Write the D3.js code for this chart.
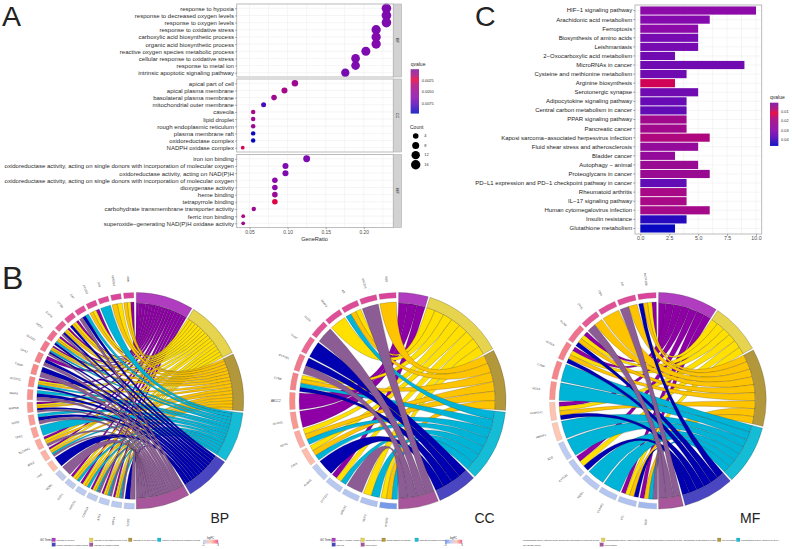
<!DOCTYPE html>
<html><head><meta charset="utf-8">
<script src="https://cdn.jsdelivr.net/npm/d3@7"></script>
<style>
html,body{margin:0;padding:0;background:#fff}
svg{display:block}
text{font-family:"Liberation Sans",Arial,sans-serif}
</style></head><body>
<svg id="c" width="792" height="549" viewBox="0 0 792 549"></svg>
<script>
// ---------- Panel A data ----------
const bpTerms=["response to hypoxia","response to decreased oxygen levels","response to oxygen levels","response to oxidative stress","carboxylic acid biosynthetic process","organic acid biosynthetic process","reactive oxygen species metabolic process","cellular response to oxidative stress","response to metal ion","intrinsic apoptotic signaling pathway"];
const bpRatio=[0.2297,0.2297,0.2297,0.2162,0.2162,0.2162,0.2027,0.1892,0.1892,0.1757];
const bpCount=[17,17,17,16,16,16,15,14,14,13];
const bpQ=[0.0066,0.0066,0.0066,0.0066,0.0064,0.0064,0.0066,0.0066,0.0066,0.0068];
const ccTerms=["apical part of cell","apical plasma membrane","basolateral plasma membrane","mitochondrial outer membrane","caveola","lipid droplet","rough endoplasmic reticulum","plasma membrane raft","oxidoreductase complex","NADPH oxidase complex"];
const ccRatio=[0.1096,0.0959,0.0822,0.0685,0.0548,0.0548,0.0548,0.0548,0.0548,0.0411];
const ccCount=[8,7,6,5,4,4,4,4,4,3];
const ccQ=[0.0045,0.0040,0.0046,0.0080,0.0040,0.0047,0.0047,0.0095,0.0096,0.0027];
const mfTerms=["iron ion binding","oxidoreductase activity, acting on single donors with incorporation of molecular oxygen","oxidoreductase activity, acting on NAD(P)H","oxidoreductase activity, acting on single donors with incorporation of molecular oxygen","dioxygenase activity","heme binding","tetrapyrrole binding","carbohydrate transmembrane transporter activity","ferric iron binding","superoxide\u2212generating NAD(P)H oxidase activity"];
const mfRatio=[0.125,0.0972,0.0972,0.0833,0.0833,0.0833,0.0833,0.0556,0.0417,0.0417];
const mfCount=[9,7,7,6,6,6,6,4,3,3];
const mfQ=[0.0066,0.0066,0.0066,0.0060,0.0060,0.0047,0.0025,0.0046,0.0036,0.0044];
const dotXTicks=[0.05,0.10,0.15,0.20];
const qLegendA=[0.0025,0.005,0.0075];
const countLegend=[4,8,12,16];

// ---------- Panel C data ----------
const pathways=["HIF\u22121 signaling pathway","Arachidonic acid metabolism","Ferroptosis","Biosynthesis of amino acids","Leishmaniasis","2\u2212Oxocarboxylic acid metabolism","MicroRNAs in cancer","Cysteine and methionine metabolism","Arginine biosynthesis","Serotonergic synapse","Adipocytokine signaling pathway","Central carbon metabolism in cancer","PPAR signaling pathway","Pancreatic cancer","Kaposi sarcoma\u2212associated herpesvirus infection","Fluid shear stress and atherosclerosis","Bladder cancer","Autophagy \u2212 animal","Proteoglycans in cancer","PD\u2212L1 expression and PD\u22121 checkpoint pathway in cancer","Rheumatoid arthritis","IL\u221217 signaling pathway","Human cytomegalovirus infection","Insulin resistance","Glutathione metabolism"];
const pathwayCount=[10,6,5,5,5,3,9,4,3,5,4,4,4,4,6,5,3,5,6,4,4,4,6,4,3];
const pathwayQ=[0.029,0.031,0.029,0.033,0.033,0.034,0.034,0.034,0.0135,0.034,0.035,0.036,0.021,0.021,0.017,0.025,0.025,0.023,0.023,0.036,0.019,0.019,0.020,0.043,0.0465];
const barXTicks=[0,2.5,5,7.5,10];
const qLegendC=[0.01,0.02,0.03,0.04];

// ---------- Panel B data ----------
const chordBPTerms=["response to hypoxia","response to decreased oxygen levels","response to oxygen levels","reactive oxygen species metabolic process","cellular response to oxidative stress","response to oxidative stress"];
const chordBPGenes=["VDR","NFE2L2","JUN","PTGS2","CAT","CYBB","EGFR","NCF2","DUOX2","GPX2","TXNIP","ALOX15","MMP9","MAPK8","NOS2","TFRC","SLC40A1","BCL2","FOS","NQO1","EGR1","HMOX1","CDKN1A","ATF3","HIF1A","SOD2"];
const chordBPLogFC=[3.2,3.15,3.1,3.05,3.0,2.9,2.7,2.5,2.3,2.15,2.05,2.0,1.9,1.8,1.7,1.6,1.5,1.35,1.15,-0.8,-0.9,-1,-1,-1,-1.05,-1.1];
const chordBPLinks=[[0,1,2],[1,2],[3],[0,1,2],[3,4,5],[0,1,2,4],[0,1,2,4,5],[0,1,2,3,4],[0,1,2,3,4,5],[0,4,5],[4,5],[0,1,2,3,4],[3,4,5],[0,1,2,4,5],[3,4,5],[3],[0,1,2,5],[0,1,2,3,5],[4],[5],[0,1,2,3],[0,1,2,3],[0,1,2,3,5],[0,1,2,3,5],[0,1,2,3,5],[4,5]];
const chordCCTerms=["NADPH oxidase complex","apical part of cell","apical plasma membrane","basolateral plasma membrane","caveola","lipid droplet"];
const chordCCGenes=["SOD","SLC2A1","AR","MMP3","CD36","TFRC","CYP1B1","CYBB","ABCC2","DUOX2","NOX1","CAV1","ALOX5","CYP2E1","HMOX1","NCF2","PTGS2"];
const chordCCLogFC=[3.2,3.1,3.05,3.0,2.9,2.6,2.3,2.15,2.0,1.8,1.5,1.2,-1,-1.1,-1.2,-1.3,-2.7];
const chordCCLinks=[[2],[5],[1,2,3],[1],[5],[4],[4,5],[1,2,3,4],[0],[0],[1,2,3],[1,2,3],[4],[0,1,3],[5],[1,3],[1,2,3]];
const chordMFTerms=["oxidoreductase activity, acting on single donors with incorporation of molecular oxygen","oxidoreductase activity, acting on single donors with incorporation of molecular oxygen, incorporation of two atoms of oxygen","iron ion binding","oxidoreductase activity, acting on NAD(P)H","dioxygenase activity","heme binding"];
const chordMFGenes=["ALOX15B","AR","CBS","FTH1","PLIN2","ALOX5","CYBB","NOX4","ALDH1A1","HMOX1","SCD","CYP1B1","NQO1","CYP4F3","FTL","SOD"];
const chordMFLogFC=[3.2,3.05,3.0,2.8,2.4,2.2,2.1,1.9,1.1,1.0,-1,-1.1,-1.1,-1.2,-1.3,-1.6];
const chordMFLinks=[[0,1,2,4],[2,5],[2],[2,5],[0,1,2,4],[0,1,2,4],[3],[3],[0,1,2,4],[3],[3],[0,1,4],[3],[3],[0,1,2,4],[0,2,3,5]];

// ---------- shared styling ----------
const svg=d3.select("#c");
const ink="#2b2b2b", axisInk="#4d4d4d", gridCol="#efefef", borderCol="#b3b3b3";
const ribbonCol=["#8e00a6","#ffe000","#ffc400","#00b4d8","#0000b0","#8c5c94"];
const termCol=["#b03cc0","#e6d44e","#b2983a","#14bcd6","#4a46c2","#a8569c"];
const qStops=[0,0.14,0.245,0.36,0.5,0.65,0.8,1];
const qCols=["#7f14a0","#a8107e","#e6003c","#b0087e","#980a94","#8a0aac","#5a0cb8","#0808c0"];
const qRamp=d3.scaleLinear().domain(qStops).range(qCols).interpolate(d3.interpolateRgb);
function qColour(qMax){return q=>qRamp(q/qMax);}
const lfcColour=d3.scaleLinear().domain([-3,-1,1,2,3.2]).range(["#6a90e8","#bccbf0","#ffc8b5","#f88b88","#d9439a"]);

function letter(t,x,y,size){svg.append("text").attr("x",x).attr("y",y).attr("font-size",size).attr("fill","#222").text(t);}
function qBar(g,x,y0,y1,w,qMax,ticks,title,colour,fmt){
  const sc=d3.scaleLinear().domain([0,qMax]).range([y0,y1]);
  g.selectAll(null).data(d3.range(y0,y1,1)).join("rect").attr("x",x).attr("y",d=>d).attr("width",w).attr("height",1.2)
    .attr("fill",d=>colour(sc.invert(d+.5)));
  g.selectAll(null).data(ticks).join("text").attr("x",x+w+2.8).attr("y",d=>sc(d)+1.3).attr("font-size",3.9).attr("fill",ink).text(fmt);
  g.append("text").attr("x",x).attr("y",y0-3.3).attr("font-size",5).attr("fill",ink).text(title);
}

// ---------- Panel A ----------
(function(){
  const g=svg.append("g");
  const left=236.7,right=393.3,stripR=401.7;
  const x=d3.scaleLinear().domain([0.05,0.20]).range([249.5,363.8]);
  const r=d3.scaleSqrt().domain([3,17]).range([1.9,4.8]);
  const colour=qColour(0.0096);
  const facets=[
    {n:"BP",t:bpTerms,v:bpRatio,c:bpCount,q:bpQ,y0:4,y1:77},
    {n:"CC",t:ccTerms,v:ccRatio,c:ccCount,q:ccQ,y0:79,y1:152},
    {n:"MF",t:mfTerms,v:mfRatio,c:mfCount,q:mfQ,y0:154.5,y1:227.6}];
  const minor=[0.075,0.125,0.175,0.225];
  facets.forEach(f=>{
    const y=d3.scalePoint().domain(d3.range(f.t.length)).range([f.y0,f.y1]).padding(0.6);
    const p=g.append("g");
    p.append("rect").attr("x",left).attr("y",f.y0).attr("width",right-left).attr("height",f.y1-f.y0).attr("fill","#fff");
    p.selectAll(null).data(f.t.map((_,i)=>i)).join("line").attr("x1",left).attr("x2",right).attr("y1",d=>y(d)).attr("y2",d=>y(d)).attr("stroke",gridCol).attr("stroke-width",.6);
    p.selectAll(null).data(dotXTicks.concat(minor)).join("line").attr("y1",f.y0).attr("y2",f.y1).attr("x1",d=>x(d)).attr("x2",d=>x(d)).attr("stroke",gridCol).attr("stroke-width",.6);
    p.selectAll(null).data(f.t.map((_,i)=>i)).join("circle").attr("cx",d=>x(f.v[d])).attr("cy",d=>y(d)).attr("r",d=>r(f.c[d])).attr("fill",d=>colour(f.q[d]));
    p.append("rect").attr("x",left).attr("y",f.y0).attr("width",right-left).attr("height",f.y1-f.y0).attr("fill","none").attr("stroke",borderCol).attr("stroke-width",.9);
    p.append("rect").attr("x",right).attr("y",f.y0).attr("width",stripR-right).attr("height",f.y1-f.y0).attr("fill","#d2d2d2").attr("stroke",borderCol).attr("stroke-width",.6);
    const sx=(right+stripR)/2, sy=(f.y0+f.y1)/2;
    p.append("text").attr("transform",`translate(${sx-1.2},${sy}) rotate(90)`).attr("text-anchor","middle").attr("font-size",3.8).attr("fill",ink).text(f.n);
    const ax=p.append("g").attr("transform",`translate(${left},0)`).call(d3.axisLeft(y).tickSize(1.6).tickPadding(1.2).tickFormat(i=>f.t[i]));
    ax.select(".domain").remove();
    ax.selectAll("line").attr("stroke",axisInk).attr("stroke-width",.5);
    ax.selectAll("text").attr("font-size",6).attr("fill",ink).attr("font-family",null);
  });
  const bx=g.append("g").attr("transform","translate(0,227.6)").call(d3.axisBottom(x).tickValues(dotXTicks).tickSize(1.6).tickPadding(1).tickFormat(d3.format(".2f")));
  bx.select(".domain").remove();
  bx.selectAll("line").attr("stroke",axisInk).attr("stroke-width",.5);
  bx.selectAll("text").attr("font-size",4.9).attr("fill",axisInk).attr("font-family",null);
  g.append("text").attr("x",314.5).attr("y",241.2).attr("text-anchor","middle").attr("font-size",5.6).attr("fill",ink).text("GeneRatio");
  qBar(g,410.7,69.3,112.7,8.3,0.0096,qLegendA,"qvalue",colour,d3.format(".4f"));
  g.append("text").attr("x",410).attr("y",128.5).attr("font-size",5).attr("fill",ink).text("Count");
  const ly=d3.scalePoint().domain(countLegend).range([136,164.7]);
  const rl=d3.scaleOrdinal().domain(countLegend).range([2.8,3.5,4.2,4.7]);
  g.selectAll(null).data(countLegend).join("circle").attr("cx",415.7).attr("cy",d=>ly(d)).attr("r",d=>rl(d)).attr("fill","#000");
  g.selectAll(null).data(countLegend).join("text").attr("x",424.3).attr("y",d=>ly(d)+1.3).attr("font-size",3.9).attr("fill",ink).text(d=>d);
})();

// ---------- Panel C ----------
(function(){
  const g=svg.append("g");
  const left=635,right=761.7,top=5,bottom=234;
  const x=d3.scaleLinear().domain([0,10]).range([640.3,756]);
  const y=d3.scaleBand().domain(pathways).range([top,bottom]).paddingInner(0.1).paddingOuter(0.16);
  const colour=qColour(0.0465);
  const minor=[1.25,3.75,6.25,8.75];
  g.selectAll(null).data(barXTicks.concat(minor)).join("line").attr("x1",d=>x(d)).attr("x2",d=>x(d)).attr("y1",top).attr("y2",bottom).attr("stroke",gridCol).attr("stroke-width",.6);
  g.selectAll(null).data(pathways).join("line").attr("x1",left).attr("x2",right).attr("y1",d=>y(d)+y.bandwidth()/2).attr("y2",d=>y(d)+y.bandwidth()/2).attr("stroke",gridCol).attr("stroke-width",.6);
  g.selectAll(null).data(pathways.map((_,i)=>i)).join("rect").attr("x",x(0)).attr("y",i=>y(pathways[i])).attr("height",y.bandwidth())
    .attr("width",i=>x(pathwayCount[i])-x(0)).attr("fill",i=>colour(pathwayQ[i]));
  g.append("rect").attr("x",left).attr("y",top).attr("width",right-left).attr("height",bottom-top).attr("fill","none").attr("stroke",borderCol).attr("stroke-width",.9);
  const ay=g.append("g").attr("transform",`translate(${left},0)`).call(d3.axisLeft(y).tickSize(1.7).tickPadding(1.2));
  ay.select(".domain").remove();
  ay.selectAll("line").attr("stroke",axisInk).attr("stroke-width",.5);
  ay.selectAll("text").attr("font-size",5.96).attr("fill","#1c1c1c").attr("font-family",null);
  const ax=g.append("g").attr("transform",`translate(0,${bottom})`).call(d3.axisBottom(x).tickValues(barXTicks).tickSize(1.7).tickPadding(1).tickFormat(d3.format(".1f")));
  ax.select(".domain").remove();
  ax.selectAll("line").attr("stroke",axisInk).attr("stroke-width",.5);
  ax.selectAll("text").attr("font-size",5.3).attr("fill",axisInk).attr("font-family",null);
  qBar(g,770,102.7,145.7,8.3,0.0465,qLegendC,"qvalue",colour,d3.format(".2f"));
})();

// ---------- Panel B ----------
function chord(cfg){
  const g=svg.append("g").attr("transform",`translate(${cfg.cx},${cfg.cy})`);
  const deg=Math.PI/180;
  const R=108.3, termIn=97.6, geneIn=102.7, ribGene=98.6, labelR=122;
  const counts=cfg.terms.map((_,t)=>d3.sum(cfg.links,l=>l.includes(t)?1:0));
  const unit=d3.scaleLinear().domain([0,d3.sum(counts)]).range([0,180*deg]);
  const termGap=0.5*deg;
  const arc=d3.arc();
  const ribbon=d3.ribbon();
  let running=0;
  const termStart=counts.map(c=>{const s=running;running+=c;return s;});
  const geneStep=180*deg/cfg.genes.length;
  const geneGapHalf=0.55*deg;
  const used=cfg.terms.map(()=>0);
  const ribbons=[];
  cfg.links.forEach((list,i)=>{
    const gHi=-i*geneStep-0.8*deg;
    const gLo=-(i+1)*geneStep+0.1*deg;
    const w=(gHi-gLo)/list.length;
    list.forEach((t,j)=>{
      const a0=unit(termStart[t]+used[t]);
      const a1=unit(termStart[t]+used[t]+1);
      used[t]+=1;
      ribbons.push({t,
        source:{startAngle:gHi-(j+1)*w,endAngle:gHi-j*w,radius:ribGene},
        target:{
          startAngle:a0+(used[t]===1?termGap:0),
          endAngle:a1-(used[t]===counts[t]?termGap:0),
          radius:termIn}});
    });
  });
  ribbons.sort((a,b)=>a.t-b.t);
  g.append("g").selectAll("path").data(ribbons).join("path").attr("d",d=>ribbon(d))
    .attr("fill",d=>ribbonCol[d.t]).attr("stroke","#1a1a1a").attr("stroke-width",.2);
  g.append("g").selectAll("path").data(cfg.terms.map((_,t)=>t)).join("path")
    .attr("d",t=>arc({innerRadius:termIn,outerRadius:R,startAngle:unit(termStart[t])+termGap,endAngle:unit(termStart[t]+counts[t])-termGap}))
    .attr("fill",t=>termCol[t]).attr("stroke","#333").attr("stroke-width",.25);
  g.append("g").selectAll("path").data(cfg.genes.map((_,i)=>i)).join("path")
    .attr("d",i=>arc({innerRadius:geneIn,outerRadius:R,startAngle:-(i+1)*geneStep+geneGapHalf,endAngle:-i*geneStep-geneGapHalf-0.3*deg}))
    .attr("fill",i=>lfcColour(cfg.lfc[i])).attr("stroke","#999").attr("stroke-width",.2);
  g.append("g").selectAll("text").data(cfg.genes.map((_,i)=>i)).join("text")
    .attr("transform",i=>{
      const a=-(i+.5)*geneStep;
      const px=labelR*Math.sin(a), py=-labelR*Math.cos(a);
      return `translate(${px},${py}) rotate(${a/deg+90})`;})
    .attr("text-anchor","middle").attr("dy","0.35em").attr("font-size",2.9).attr("fill","#444").text(i=>cfg.genes[i]);
  svg.append("text").attr("x",cfg.titleX).attr("y",523.3).attr("font-size",14).attr("fill","#222").text(cfg.title);
  const lg=svg.append("g");
  if(cfg.legendTitleX) lg.append("text").attr("x",cfg.legendTitleX).attr("y",541.4).attr("font-size",2.6).attr("fill",ink).text("GO Terms");
  cfg.legendPos.forEach((p,t)=>{
    if(p.square) lg.append("rect").attr("x",p.x-4.6).attr("y",p.y-2.8).attr("width",3.6).attr("height",3.6).attr("fill",termCol[t]).attr("stroke","#666").attr("stroke-width",.15);
    lg.append("text").attr("x",p.x).attr("y",p.y).attr("font-size",cfg.legendFont).attr("fill",ink).text(cfg.terms[t]);
  });
  if(cfg.barX){
    const sc=d3.scaleLinear().domain([cfg.lfcMin,cfg.lfcMax]).range([cfg.barX,cfg.barX+cfg.barW]);
    lg.selectAll(null).data(d3.range(cfg.barX,cfg.barX+cfg.barW,0.5)).join("rect").attr("x",d=>d).attr("y",539.8).attr("width",.7).attr("height",3.6).attr("fill",d=>lfcColour(sc.invert(d)));
    lg.append("text").attr("x",cfg.barX+cfg.barW/2).attr("y",538.6).attr("text-anchor","middle").attr("font-size",2.6).attr("fill",ink).text("logFC");
    [cfg.lfcMin,cfg.lfcMax].forEach(v=>lg.append("text").attr("x",sc(v)).attr("y",546.4).attr("text-anchor","middle").attr("font-size",2.6).attr("fill",ink).text(d3.format("d")(v)));
  }
}
chord({cx:135.4,cy:400.7,terms:chordBPTerms,genes:chordBPGenes,lfc:chordBPLogFC,links:chordBPLinks,title:"BP",titleX:210.5,
  legendTitleX:40,legendFont:2.0,barX:203,barW:15,lfcMin:-1,lfcMax:3,
  legendPos:[{x:56.5,y:540.8,square:1},{x:94,y:540.8,square:1},{x:133,y:540.8,square:1},{x:162,y:540.8,square:1},{x:56.5,y:545.6,square:1},{x:94,y:545.6,square:1}]});
chord({cx:397.7,cy:400.7,terms:chordCCTerms,genes:chordCCGenes,lfc:chordCCLogFC,links:chordCCLinks,title:"CC",titleX:474.5,
  legendTitleX:320,legendFont:2.2,barX:445,barW:17,lfcMin:-3,lfcMax:3,
  legendPos:[{x:336.5,y:540.8,square:1},{x:365.5,y:540.8,square:1},{x:386.5,y:540.8,square:1},{x:419.5,y:540.8,square:1},{x:336.5,y:545.6,square:1},{x:365.5,y:545.6,square:1}]});
chord({cx:657.7,cy:400.7,terms:chordMFTerms,genes:chordMFGenes,lfc:chordMFLogFC,links:chordMFLinks,title:"MF",titleX:740,
  legendFont:2.0,
  legendPos:[{x:523,y:540.8,square:0},{x:606,y:540.8,square:1},{x:722,y:540.8,square:1},{x:741,y:540.8,square:1},{x:523,y:545.6,square:0},{x:604.5,y:545.6,square:1}]});

letter("A",2,26,28.5);
letter("B",2,289,32);
letter("C",475,26,28.5);
</script>
</body></html>
